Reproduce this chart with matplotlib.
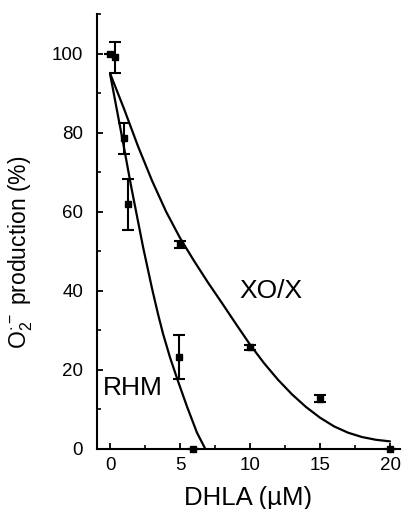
import matplotlib
matplotlib.use("Agg")
import matplotlib.pyplot as plt
from matplotlib.ticker import MultipleLocator

plt.rcParams['font.family'] = ['Liberation Sans', 'DejaVu Sans']
plt.rcParams['mathtext.fontset'] = 'custom'
plt.rcParams['mathtext.rm'] = 'Liberation Sans'
plt.rcParams['mathtext.it'] = 'Liberation Sans:italic'
plt.rcParams['mathtext.bf'] = 'Liberation Sans:bold'

# measured points (mean, error)
xo_x = [0.0, 1.0, 5.0, 10.0, 15.0, 20.0]
xo_y = [100.0, 78.5, 51.7, 25.6, 12.6, 0.0]
xo_err = [0.0, 4.0, 0.9, 0.6, 0.9, 0.0]

rhm_x = [0.35, 1.25, 4.9, 5.9]
rhm_y = [99.0, 61.8, 23.2, 0.0]
rhm_err = [4.0, 6.5, 5.5, 0.0]

# fitted curves
xo_curve_x = [0, 1, 2, 3, 4, 5, 6, 7, 8, 9, 10, 11, 12, 13, 14, 15, 16, 17, 18, 19, 20]
xo_curve_y = [95.0, 86.0, 76.5, 67.8, 60.0, 53.3, 47.5, 42.0, 36.8, 31.5, 26.3,
              21.6, 17.4, 13.7, 10.5, 7.8, 5.6, 4.0, 2.9, 2.2, 1.8]

rhm_curve_x = [0.0, 0.93, 1.5, 2.36, 3.0, 3.43, 3.79, 4.29, 4.86, 5.5, 6.21, 6.79]
rhm_curve_y = [94.9, 77.5, 66.5, 51.0, 40.5, 34.0, 29.0, 23.0, 17.0, 10.6, 4.0, 0.0]

x_ticks = [0, 5, 10, 15, 20]
y_ticks = [0, 20, 40, 60, 80, 100]

fig = plt.figure(figsize=(4.04, 5.09), dpi=100)
ax = fig.add_axes([97 / 404, (509 - 448.5) / 509, (400 - 97) / 404, (448.5 - 14) / 509])

ax.plot(xo_curve_x, xo_curve_y, color='black', lw=1.6, solid_capstyle='round',
        solid_joinstyle='round')
ax.plot(rhm_curve_x, rhm_curve_y, color='black', lw=1.6, solid_capstyle='round',
        solid_joinstyle='round')

for xs, ys, es in [(xo_x, xo_y, xo_err), (rhm_x, rhm_y, rhm_err)]:
    ax.errorbar(xs, ys, yerr=es, fmt='s', ms=4, color='black', ecolor='black',
                elinewidth=1.5, capsize=4.5, capthick=1.5, clip_on=False, zorder=3)

ax.text(11.5, 40, 'XO/X', fontsize=19, ha='center', va='center')
ax.text(1.6, 15.2, 'RHM', fontsize=19, ha='center', va='center')

ax.set_xlim(-0.93, 20.71)
ax.set_ylim(0, 110)
ax.set_xticks(x_ticks)
ax.set_yticks(y_ticks)
ax.xaxis.set_minor_locator(MultipleLocator(2.5))
ax.yaxis.set_minor_locator(MultipleLocator(10))

for s in ['top', 'right']:
    ax.spines[s].set_visible(False)
for s in ['left', 'bottom']:
    ax.spines[s].set_linewidth(1.5)

ax.tick_params(axis='both', which='major', direction='in', length=4.5, width=1.3, labelsize=13.5)
ax.tick_params(axis='both', which='minor', direction='in', length=3, width=1.2)
ax.tick_params(axis='y', which='major', pad=10)
ax.tick_params(axis='x', which='major', pad=6)

ax.set_xlabel('DHLA (\u00b5M)', fontsize=18.5, labelpad=9)
ax.set_ylabel(r'O$_2^{\cdot-}$ production (%)', fontsize=16.5)
ax.yaxis.set_label_coords(-0.205, 0.452)

fig.savefig('out.png', dpi=100)
